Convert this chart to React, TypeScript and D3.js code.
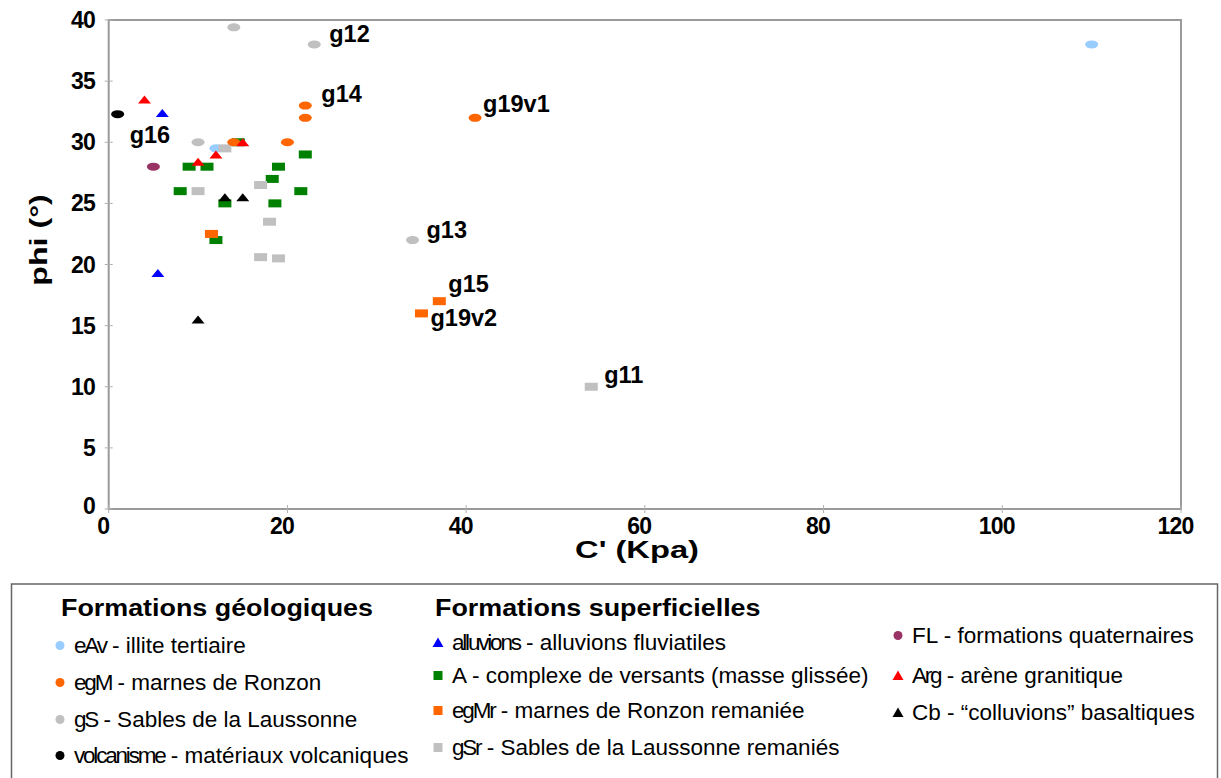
import React from "react";
import * as d3 from "d3";

type Pt = [number, number];

const xTicks = [0, 20, 40, 60, 80, 100, 120];
const yTicks = [0, 5, 10, 15, 20, 25, 30, 35, 40];

const eAv: Pt[] = [[12, 29.5], [110, 38]];
const egM: Pt[] = [[22, 33], [22, 32], [14, 30], [20, 30], [41, 32]];
const gS: Pt[] = [[14, 39.4], [23, 38], [10, 30], [34, 22]];
const volcanisme: Pt[] = [[1, 32.3]];
const FL: Pt[] = [[5, 28]];
const alluvions: Pt[] = [[6, 32.4], [5.5, 19.3]];
const A: Pt[] = [[14.5, 30], [22, 29], [9, 28], [11, 28], [19, 28], [18.3, 27], [8, 26], [21.5, 26], [13, 25], [18.6, 25], [12, 22]];
const egMr: Pt[] = [[11.5, 22.5], [37, 17], [35, 16]];
const gSr: Pt[] = [[13, 29.5], [17, 26.5], [10, 26], [18, 23.5], [17, 20.6], [19, 20.5], [54, 10]];
const Arg: Pt[] = [[4, 33.5], [15, 30], [12, 29], [10, 28.4]];
const Cb: Pt[] = [[13, 25.5], [15, 25.5], [10, 15.5]];

// point labels: attached to a data point, offset in pixels
const pointLabels = [
  { text: "g12", x: 23, y: 38, dx: 15, dy: -2 },
  { text: "g14", x: 22, y: 33, dx: 16, dy: -4 },
  { text: "g19v1", x: 41, y: 32, dx: 8, dy: -6 },
  { text: "g16", x: 1, y: 32.3, dx: 12, dy: 29 },
  { text: "g13", x: 34, y: 22, dx: 14, dy: -2 },
  { text: "g15", x: 37, y: 17, dx: 9, dy: -9 },
  { text: "g19v2", x: 35, y: 16, dx: 9, dy: 13 },
  { text: "g11", x: 54, y: 10, dx: 13, dy: -4 },
];

type Shape = "ellipse" | "square" | "triangle";
interface Series { code: string; desc: string; data: Pt[]; shape: Shape; color: string; }

const seriesList: Series[] = [
  { code: "eAv", desc: " - illite tertiaire", data: eAv, shape: "ellipse", color: "#99ccff" },
  { code: "A", desc: " - complexe de versants (masse glissée)", data: A, shape: "square", color: "#008000" },
  { code: "gSr", desc: " - Sables de la Laussonne remaniés", data: gSr, shape: "square", color: "#c0c0c0" },
  { code: "egM", desc: " - marnes de Ronzon", data: egM, shape: "ellipse", color: "#ff6600" },
  { code: "gS", desc: " - Sables de la Laussonne", data: gS, shape: "ellipse", color: "#c0c0c0" },
  { code: "volcanisme", desc: " - matériaux volcaniques", data: volcanisme, shape: "ellipse", color: "#000000" },
  { code: "FL", desc: " - formations quaternaires", data: FL, shape: "ellipse", color: "#993366" },
  { code: "egMr", desc: " - marnes de Ronzon remaniée", data: egMr, shape: "square", color: "#ff6600" },
  { code: "alluvions", desc: " - alluvions fluviatiles", data: alluvions, shape: "triangle", color: "#0000ff" },
  { code: "Arg", desc: " - arène granitique", data: Arg, shape: "triangle", color: "#ff0000" },
  { code: "Cb", desc: " - \u201Ccolluvions\u201D basaltiques", data: Cb, shape: "triangle", color: "#000000" },
];

const legendTitles = ["Formations géologiques", "Formations superficielles"];
const legendCol1 = ["eAv", "egM", "gS", "volcanisme"];
const legendCol2 = ["alluvions", "A", "egMr", "gSr"];
const legendCol3 = ["FL", "Arg", "Cb"];
const condensed = new Set(["eAv", "egM", "gS", "volcanisme", "alluvions", "egMr", "gSr", "Arg"]);

const W = 1221, H = 778;
const left = 108.7, right = 1181, top = 20, bottom = 509;

function Marker({ shape, color, cx, cy }: { shape: Shape; color: string; cx: number; cy: number }) {
  if (shape === "ellipse") return <ellipse cx={cx} cy={cy} rx={6.5} ry={4} fill={color} />;
  if (shape === "square") return <rect x={cx - 6.5} y={cy - 4} width={13} height={8} fill={color} />;
  return <path d={`M${cx},${cy - 4}L${cx + 6.5},${cy + 4}L${cx - 6.5},${cy + 4}Z`} fill={color} />;
}

function LegendMarker({ shape, color, cx, cy }: { shape: Shape; color: string; cx: number; cy: number }) {
  if (shape === "ellipse") return <circle cx={cx} cy={cy} r={4.5} fill={color} />;
  if (shape === "square") return <rect x={cx - 4.5} y={cy - 4.5} width={9} height={9} fill={color} />;
  return <path d={`M${cx},${cy - 5}L${cx + 5.5},${cy + 4.5}L${cx - 5.5},${cy + 4.5}Z`} fill={color} />;
}

export default function App() {
  const x = d3.scaleLinear().domain([0, 120]).range([left, right]);
  const y = d3.scaleLinear().domain([0, 40]).range([bottom, top]);
  const font = "'Liberation Sans', Arial, sans-serif";
  const byCode = new Map(seriesList.map((s) => [s.code, s]));

  const legendItem = (code: string, mx: number, tx: number, baseline: number) => {
    const s = byCode.get(code)!;
    return (
      <g key={code}>
        <LegendMarker shape={s.shape} color={s.color} cx={mx} cy={baseline - 7.5} />
        <text x={tx} y={baseline} fontSize={22.5} fill="#000">
          <tspan letterSpacing={condensed.has(code) ? -2.2 : 0}>{s.code}</tspan>
          <tspan>{s.desc}</tspan>
        </text>
      </g>
    );
  };

  return (
    <svg width={W} height={H} style={{ position: "absolute", left: 0, top: 0, background: "#fff" }} fontFamily={font}>
      <rect x={0} y={0} width={W} height={H} fill="#fff" />
      {/* plot frame */}
      <rect x={left} y={top} width={right - left} height={bottom - top} fill="none" stroke="#9a9a9a" strokeWidth={2} />
      {/* ticks */}
      {yTicks.map((t) => (
        <g key={"y" + t}>
          <line x1={left - 4} x2={left + 4} y1={y(t)} y2={y(t)} stroke="#b0b0b0" strokeWidth={1} />
          <text x={95} y={y(t) - (t === 0 ? 3 : 0)} dy="0.35em" textAnchor="end" fontSize={23} fontWeight="bold" letterSpacing={-0.8}>{t}</text>
        </g>
      ))}
      {xTicks.map((t) => (
        <g key={"x" + t}>
          <line x1={x(t)} x2={x(t)} y1={bottom - 4} y2={bottom + 4} stroke="#b0b0b0" strokeWidth={1} />
          <text x={x(t) - 5.5} y={534} textAnchor="middle" fontSize={23} fontWeight="bold" letterSpacing={-0.8}>{t}</text>
        </g>
      ))}
      <text transform="translate(637,558) scale(1.42,1)" textAnchor="middle" fontSize={23} fontWeight="bold">C' (Kpa)</text>
      <text transform="translate(47,240) rotate(-90) scale(1.4,1)" textAnchor="middle" fontSize={23} fontWeight="bold">phi (°)</text>

      {/* points */}
      {seriesList.map((s) => (
        <g key={s.code}>
          {s.data.map((d, i) => (
            <Marker key={i} shape={s.shape} color={s.color} cx={x(d[0])} cy={y(d[1])} />
          ))}
        </g>
      ))}
      {pointLabels.map((l) => (
        <text key={l.text} x={x(l.x) + l.dx} y={y(l.y) + l.dy} fontSize={23.5} fontWeight="bold">{l.text}</text>
      ))}

      {/* legend */}
      <rect x={11.5} y={584} width={1206} height={220} fill="none" stroke="#666" strokeWidth={1.5} />
      <text transform="translate(61,616) scale(1.12,1)" fontSize={24} fontWeight="bold">{legendTitles[0]}</text>
      <text transform="translate(435,616) scale(1.12,1)" fontSize={24} fontWeight="bold">{legendTitles[1]}</text>
      {legendCol1.map((c, i) => legendItem(c, 60, 74, [653, 690, 727, 763][i]))}
      {legendCol2.map((c, i) => legendItem(c, 438, 452, [650, 683, 718, 755][i]))}
      {legendCol3.map((c, i) => legendItem(c, 898, 912, [643, 683, 720][i]))}
    </svg>
  );
}
